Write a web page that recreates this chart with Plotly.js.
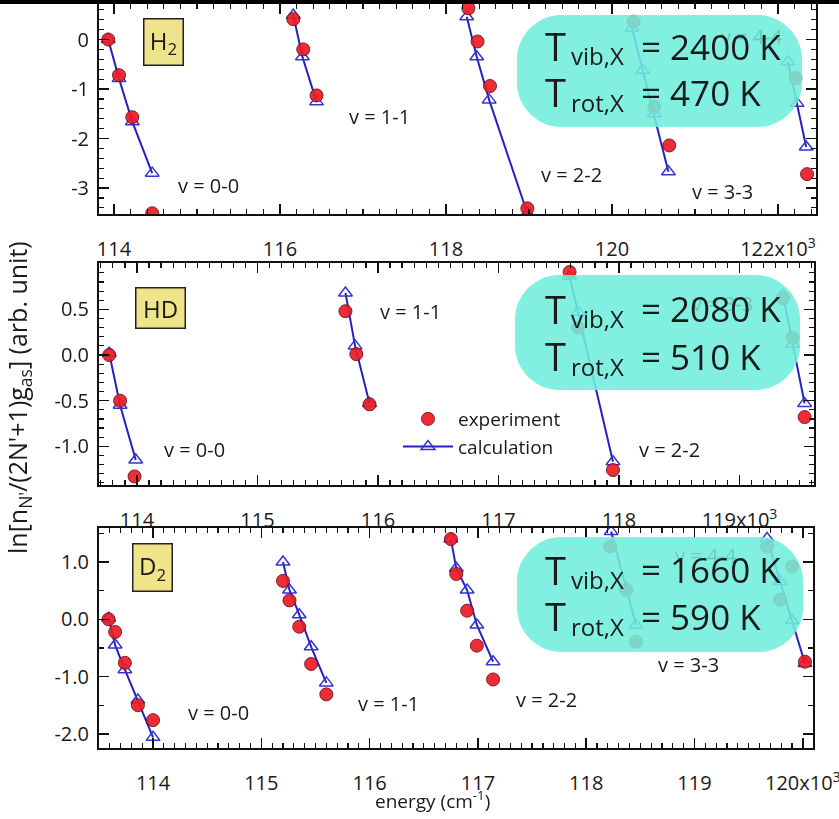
<!DOCTYPE html>
<html>
<head>
<meta charset="utf-8">
<script src="https://cdn.plot.ly/plotly-3.0.1.min.js"></script>
<style>html,body{margin:0;padding:0;background:#fff;}#chart{width:839px;height:819px;}</style>
</head>
<body>
<div id="chart"></div>
<script>
// ---------------- DATA (energy in 10^3 cm^-1, ln population) ----------------
// H2
const h2_00_expE = [113.93, 114.06, 114.22, 114.46];
const h2_00_expY = [0.00, -0.72, -1.57, -3.51];
const h2_00_calE = [113.93, 114.06, 114.22, 114.46];
const h2_00_calY = [0.00, -0.79, -1.66, -2.70];
const h2_11_expE = [116.16, 116.28, 116.44];
const h2_11_expY = [0.41, -0.20, -1.13];
const h2_11_calE = [116.16, 116.27, 116.44];
const h2_11_calY = [0.49, -0.35, -1.26];
const h2_22_expE = [118.27, 118.38, 118.53, 118.98];
const h2_22_expY = [0.63, -0.04, -0.94, -3.41];
const h2_22_calE = [118.25, 118.37, 118.52, 118.98];
const h2_22_calY = [0.46, -0.35, -1.22, -3.51];
const h2_33_expE = [120.26, 120.51, 120.69];
const h2_33_expY = [0.36, -1.36, -2.14];
const h2_33_calE = [120.24, 120.37, 120.51, 120.68];
const h2_33_calY = [0.23, -0.62, -1.50, -2.67];
const h2_44_expE = [122.21, 122.35];
const h2_44_expY = [-0.78, -2.72];
const h2_44_calE = [122.12, 122.23, 122.34];
const h2_44_calY = [-0.45, -1.29, -2.17];
// HD
const hd_00_expE = [113.77, 113.86, 113.98];
const hd_00_expY = [0.00, -0.50, -1.33];
const hd_00_calE = [113.77, 113.86, 113.99];
const hd_00_calY = [0.02, -0.55, -1.15];
const hd_11_expE = [115.73, 115.82, 115.93];
const hd_11_expY = [0.48, 0.01, -0.54];
const hd_11_calE = [115.73, 115.81, 115.93];
const hd_11_calY = [0.68, 0.10, -0.53];
const hd_22_expE = [117.59, 117.66, 117.95];
const hd_22_expY = [0.91, 0.30, -1.26];
const hd_22_calE = [117.59, 117.66, 117.95];
const hd_22_calY = [0.86, 0.47, -1.17];
const hd_33_expE = [119.36, 119.44, 119.54];
const hd_33_expY = [0.62, 0.19, -0.68];
const hd_33_calE = [119.36, 119.44, 119.54];
const hd_33_calY = [0.66, 0.12, -0.53];
// D2
const d2_00_expE = [113.59, 113.65, 113.74, 113.86, 114.00];
const d2_00_expY = [0.00, -0.22, -0.76, -1.50, -1.76];
const d2_00_calE = [113.59, 113.65, 113.74, 113.86, 114.00];
const d2_00_calY = [0.02, -0.45, -0.88, -1.41, -2.06];
const d2_11_expE = [115.20, 115.26, 115.35, 115.46, 115.60];
const d2_11_expY = [0.67, 0.33, -0.13, -0.78, -1.31];
const d2_11_calE = [115.20, 115.26, 115.35, 115.46, 115.60];
const d2_11_calY = [1.00, 0.51, 0.08, -0.48, -1.11];
const d2_22_expE = [116.75, 116.80, 116.90, 116.99, 117.14];
const d2_22_expY = [1.40, 0.79, 0.15, -0.46, -1.05];
const d2_22_calE = [116.75, 116.80, 116.90, 116.99, 117.14];
const d2_22_calY = [1.40, 0.89, 0.51, -0.10, -0.74];
const d2_33_expE = [118.22, 118.37, 118.46];
const d2_33_expY = [1.27, 0.51, -0.39];
const d2_33_calE = [118.23, 118.37, 118.46];
const d2_33_calY = [1.53, 0.55, -0.10];
const d2_44_expE = [119.67, 119.79, 119.90, 120.02];
const d2_44_expY = [1.27, 0.34, 0.92, -0.74];
const d2_44_calE = [119.67, 119.79, 119.90, 120.02];
const d2_44_calY = [1.41, 0.66, -0.02, -0.77];

// tick labels
const h2_xTicks = [114, 116, 118, 120, 122];
const h2_xText = ['114', '116', '118', '120', '122x10<sup>3</sup>'];
const h2_yTicks = [-3, -2, -1, 0];
const h2_yText = ['-3', '-2', '-1', '0'];
const hd_xTicks = [114, 115, 116, 117, 118, 119];
const hd_xText = ['114', '115', '116', '117', '118', '119x10<sup>3</sup>'];
const hd_yTicks = [-1.0, -0.5, 0.0, 0.5];
const hd_yText = ['-1.0', '-0.5', '0.0', '0.5'];
const d2_xTicks = [114, 115, 116, 117, 118, 119, 120];
const d2_xText = ['114', '115', '116', '117', '118', '119', '120x10<sup>3</sup>'];
const d2_yTicks = [-2, -1, 0, 1];
const d2_yText = ['-2.0', '-1.0', '0.0', '1.0'];

const bandLabels = ['v = 0-0', 'v = 1-1', 'v = 2-2', 'v = 3-3', 'v = 4-4'];
const tvibText = ['= 2400 K', '= 2080 K', '= 1660 K'];
const trotText = ['= 470 K', '= 510 K', '= 590 K'];
const moleculeText = ['H<sub>2</sub>', 'HD', 'D<sub>2</sub>'];

// ---------------- LAYOUT HELPERS ----------------
const W = 839, H = 819;
const fx = p => p / W;
const fy = p => 1 - p / H;
const FONT = 'Open Sans, Noto Sans, sans-serif';

const expStyle = {symbol: 'circle', size: 13, color: '#ec1c24', line: {color: '#7a0a1a', width: 1}};
const calMarker = {symbol: 'triangle-up-open', size: 12, color: '#3434d0', line: {width: 1.5}};
const calLine = {color: '#2222c4', width: 2};

const traces = [];
let legendDone = false;
function band(E1, Y1, E2, Y2, xa, ya) {
  traces.push({x: E2, y: Y2, xaxis: xa, yaxis: ya, mode: 'lines+markers', name: 'calculation',
    line: calLine, marker: calMarker, showlegend: !legendDone, legendrank: 2});
  traces.push({x: E1, y: Y1, xaxis: xa, yaxis: ya, mode: 'markers', name: 'experiment',
    marker: expStyle, opacity: 0.92, showlegend: !legendDone, legendrank: 1});
  legendDone = true;
}
band(h2_00_expE, h2_00_expY, h2_00_calE, h2_00_calY, 'x', 'y');
band(h2_11_expE, h2_11_expY, h2_11_calE, h2_11_calY, 'x', 'y');
band(h2_22_expE, h2_22_expY, h2_22_calE, h2_22_calY, 'x', 'y');
band(h2_33_expE, h2_33_expY, h2_33_calE, h2_33_calY, 'x', 'y');
band(h2_44_expE, h2_44_expY, h2_44_calE, h2_44_calY, 'x', 'y');
band(hd_00_expE, hd_00_expY, hd_00_calE, hd_00_calY, 'x2', 'y2');
band(hd_11_expE, hd_11_expY, hd_11_calE, hd_11_calY, 'x2', 'y2');
band(hd_22_expE, hd_22_expY, hd_22_calE, hd_22_calY, 'x2', 'y2');
band(hd_33_expE, hd_33_expY, hd_33_calE, hd_33_calY, 'x2', 'y2');
band(d2_00_expE, d2_00_expY, d2_00_calE, d2_00_calY, 'x3', 'y3');
band(d2_11_expE, d2_11_expY, d2_11_calE, d2_11_calY, 'x3', 'y3');
band(d2_22_expE, d2_22_expY, d2_22_calE, d2_22_calY, 'x3', 'y3');
band(d2_33_expE, d2_33_expY, d2_33_calE, d2_33_calY, 'x3', 'y3');
band(d2_44_expE, d2_44_expY, d2_44_calE, d2_44_calY, 'x3', 'y3');

function axis(dom, range, anchor, tv, tt, minorDtick, standoff) {
  return {domain: dom, range: range, anchor: anchor, tickmode: 'array', tickvals: tv, ticktext: tt,
    ticks: 'inside', ticklen: 10, tickwidth: 1.5, tickcolor: '#111',
    minor: {dtick: minorDtick, tick0: 0, ticks: 'inside', ticklen: 5, tickwidth: 1.2, tickcolor: '#111'},
    mirror: 'allticks', showline: true, linewidth: 2, linecolor: '#111',
    showgrid: false, zeroline: false, ticklabelstandoff: standoff, ticklabeloverflow: 'allow',
    tickfont: {family: FONT, size: 20, color: '#1a1a1a'}};
}

const P1 = {x0: 99, x1: 816, y0: 4, y1: 214};
const P2 = {x0: 99, x1: 814, y0: 263, y1: 485};
const P3 = {x0: 99, x1: 813, y0: 528, y1: 748};

function rr(x0, y0, x1, y1, r) {
  const k = 0.54 * r;
  const P = (a, b) => fx(a) + ',' + fy(b);
  return 'M ' + P(x0 + r, y0) + ' L ' + P(x1 - r, y0) +
    ' C ' + P(x1 - r + k, y0) + ' ' + P(x1, y0 + r - k) + ' ' + P(x1, y0 + r) +
    ' L ' + P(x1, y1 - r) +
    ' C ' + P(x1, y1 - r + k) + ' ' + P(x1 - r + k, y1) + ' ' + P(x1 - r, y1) +
    ' L ' + P(x0 + r, y1) +
    ' C ' + P(x0 + r - k, y1) + ' ' + P(x0, y1 - r + k) + ' ' + P(x0, y1 - r) +
    ' L ' + P(x0, y0 + r) +
    ' C ' + P(x0, y0 + r - k) + ' ' + P(x0 + r - k, y0) + ' ' + P(x0 + r, y0) + ' Z';
}

const shapes = [
  {type: 'rect', xref: 'paper', yref: 'paper', x0: 0, x1: 1, y0: fy(4), y1: 1, fillcolor: '#000', line: {width: 0}, layer: 'above'},
  {type: 'path', xref: 'paper', yref: 'paper', path: rr(517, 15, 802, 127, 44), fillcolor: 'rgba(112,238,220,0.88)', line: {width: 0}, layer: 'above'},
  {type: 'path', xref: 'paper', yref: 'paper', path: rr(515, 275, 800, 390, 44), fillcolor: 'rgba(112,238,220,0.88)', line: {width: 0}, layer: 'above'},
  {type: 'path', xref: 'paper', yref: 'paper', path: rr(517, 537, 803, 652, 44), fillcolor: 'rgba(112,238,220,0.88)', line: {width: 0}, layer: 'above'}
];

const ann = [];
function txt(t, x, y, size, opts) {
  ann.push(Object.assign({text: t, x: fx(x), y: fy(y), xref: 'paper', yref: 'paper', showarrow: false,
    xanchor: 'center', yanchor: 'middle', font: {family: FONT, size: size, color: '#1a1a1a'}}, opts || {}));
}
const VS = 20;
// band labels
txt(bandLabels[0], 208, 186, VS); txt(bandLabels[1], 379, 117, VS); txt(bandLabels[2], 571, 174, VS); txt(bandLabels[3], 722, 191, VS);
txt(bandLabels[0], 194, 449, VS); txt(bandLabels[1], 410, 311, VS); txt(bandLabels[2], 669, 449, VS);
txt(bandLabels[0], 218, 712, VS); txt(bandLabels[1], 388, 703, VS); txt(bandLabels[2], 546, 699, VS); txt(bandLabels[3], 688, 664, VS);
// faint labels seen through the boxes
const faint = {font: {family: FONT, size: VS, color: 'rgba(60,160,150,0.45)'}};
txt(bandLabels[4], 752, 37, VS, faint);
txt(bandLabels[3], 722, 303, VS, faint);
txt(bandLabels[4], 706, 555, VS, faint);
// molecule boxes
const molBox = {bgcolor: '#efe48a', bordercolor: '#222', borderwidth: 1.5, borderpad: 0};
txt(moleculeText[0], 163, 42, 24, Object.assign({width: 38, height: 45}, molBox));
txt(moleculeText[1], 160.5, 308, 24, Object.assign({width: 48, height: 39}, molBox));
txt(moleculeText[2], 152.5, 567.5, 24, Object.assign({width: 38, height: 46}, molBox));
// temperature boxes
const boxLines = [[46, 92], [308.5, 356], [569.5, 616]];
for (let i = 0; i < 3; i++) {
  const [l1, l2] = boxLines[i];
  txt('T', 543, l1, 38, {xanchor: 'left'});
  txt('vib,X', 569, l1 + 10, 24, {xanchor: 'left'});
  txt(tvibText[i], 639, l1, 35, {xanchor: 'left'});
  txt('T', 543, l2, 38, {xanchor: 'left'});
  txt('rot,X', 569, l2 + 10, 24, {xanchor: 'left'});
  txt(trotText[i], 639, l2, 35, {xanchor: 'left'});
}
// axis titles
txt("ln[n<sub>N'</sub>/(2N'+1)g<sub>as</sub>] (arb. unit)", 18, 398, 25, {textangle: -90});
txt('energy (cm<sup>-1</sup>)', 432, 800, 19);

const layout = {
  width: W, height: H, margin: {l: 0, r: 0, t: 0, b: 0},
  paper_bgcolor: '#fff', plot_bgcolor: 'rgba(0,0,0,0)',
  font: {family: FONT, color: '#1a1a1a'},
  showlegend: true,
  legend: {x: fx(398), y: fy(400), xanchor: 'left', yanchor: 'top', bgcolor: 'rgba(0,0,0,0)',
    itemwidth: 50, font: {family: FONT, size: 19, color: '#1a1a1a'}, tracegroupgap: 0},
  xaxis: axis([fx(P1.x0), fx(P1.x1)], [113.819, 122.458], 'y', h2_xTicks, h2_xText, 0.2, 16),
  yaxis: axis([fy(P1.y1), fy(P1.y0)], [-3.525, 0.717], 'x', h2_yTicks, h2_yText, 0.2, 4),
  xaxis2: axis([fx(P2.x0), fx(P2.x1)], [113.685, 119.618], 'y2', hd_xTicks, hd_xText, 0.1, 16),
  yaxis2: axis([fy(P2.y1), fy(P2.y0)], [-1.424, 1.008], 'x2', hd_yTicks, hd_yText, 0.1, 4),
  xaxis3: axis([fx(P3.x0), fx(P3.x1)], [113.501, 120.094], 'y3', d2_xTicks, d2_xText, 0.1, 16),
  yaxis3: axis([fy(P3.y1), fy(P3.y0)], [-2.246, 1.593], 'x3', d2_yTicks, d2_yText, 0.5, 4),
  shapes: shapes, annotations: ann
};
Plotly.newPlot('chart', traces, layout, {staticPlot: true});
</script>
</body>
</html>
